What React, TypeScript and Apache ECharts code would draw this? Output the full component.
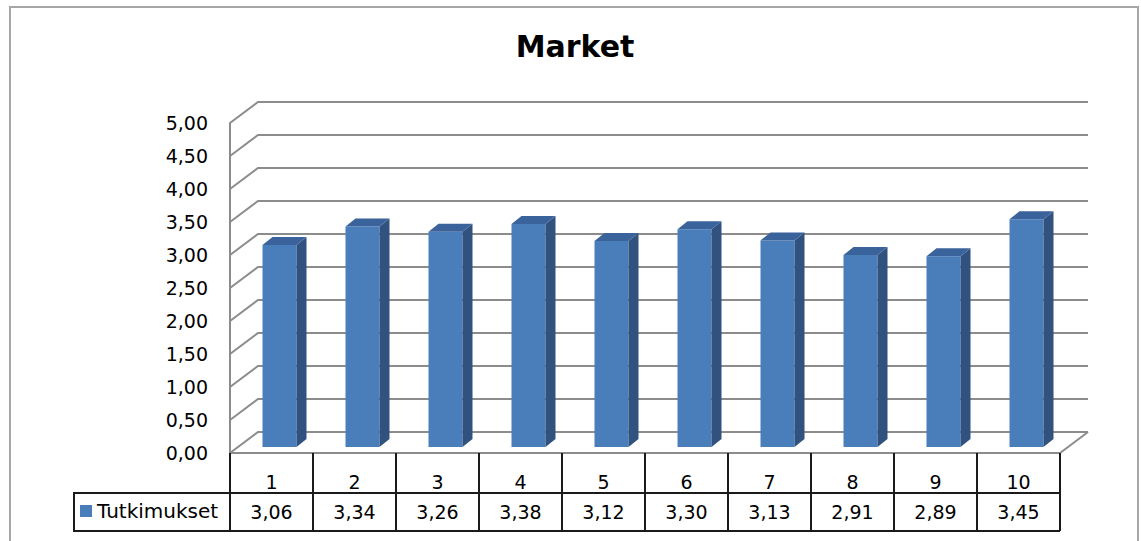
import React, { useEffect, useRef } from "react";
import * as echarts from "echarts";

const title = "Market";
const seriesName = "Tutkimukset";
const categories = ["1", "2", "3", "4", "5", "6", "7", "8", "9", "10"];
const values = [3.06, 3.34, 3.26, 3.38, 3.12, 3.3, 3.13, 2.91, 2.89, 3.45];
const gridValues = [0, 0.5, 1, 1.5, 2, 2.5, 3, 3.5, 4, 4.5, 5];

const FONT = "DejaVu Sans";
const DEPTH_X = 28;
const DEPTH_Y = 21;
const BAR_OFF_X = 8;
const BAR_OFF_Y = 6;
const BAR_W = 34;
const BAR_DX = 10;
const BAR_DY = 8;
const ROW1_H = 40;
const ROW2_H = 38;

const fmt = (v: number) => v.toFixed(2).replace(".", ",");

export default function App() {
  const ref = useRef<HTMLDivElement>(null);
  useEffect(() => {
    if (!ref.current) return;
    const chart = echarts.init(ref.current, null, { renderer: "svg" });
    const option: any = {
      animation: false,
      backgroundColor: "#ffffff",
      grid: { left: 230, top: 123, width: 830, height: 330 },
      legend: {
        data: [seriesName],
        left: 80,
        top: 501,
        padding: 0,
        icon: "rect",
        itemWidth: 12,
        itemHeight: 12,
        selectedMode: false,
        textStyle: { fontSize: 20, fontFamily: FONT, color: "#000" },
      },
      xAxis: {
        type: "category",
        data: categories,
        axisLine: { show: false },
        axisTick: { show: false },
        axisLabel: { show: false },
        splitLine: { show: false },
      },
      yAxis: {
        type: "value",
        min: 0,
        max: 5,
        interval: 0.5,
        axisLine: { show: true, lineStyle: { color: "#8c8c8c", width: 2 } },
        axisTick: { show: false },
        splitLine: { show: false },
        axisLabel: {
          formatter: (v: number) => fmt(v),
          fontSize: 19,
          fontFamily: FONT,
          color: "#000",
          margin: 22,
        },
      },
      graphic: [
        {
          type: "rect",
          shape: { x: 10, y: 7, width: 1128, height: 560 },
          style: { fill: "none", stroke: "#a6a6a6", lineWidth: 2 },
          silent: true,
          z: -10,
        },
        {
          type: "text",
          x: 575,
          y: 46,
          style: {
            text: title,
            align: "center",
            verticalAlign: "middle",
            fontSize: 30,
            fontWeight: "bold",
            fontFamily: FONT,
            fill: "#000",
          },
        },
        {
          type: "rect",
          shape: { x: 74, y: 493, width: 156, height: 38 },
          style: { fill: "none", stroke: "#1a1a1a", lineWidth: 2 },
          silent: true,
        },
      ],
      series: [
        {
          type: "custom",
          name: "grid",
          silent: true,
          z: 1,
          encode: { x: 0, y: 1 },
          data: gridValues.map((v) => [0, v]),
          renderItem: (params: any, api: any) => {
            const v = api.value(1);
            const y = api.coord([0, v])[1];
            const cs = params.coordSys;
            const x0 = cs.x;
            const x1 = cs.x + cs.width;
            const stroke = { fill: "none", stroke: "#8c8c8c", lineWidth: 2 };
            const children: any[] = [
              {
                type: "polyline",
                shape: {
                  points: [
                    [x0, y],
                    [x0 + DEPTH_X, y - DEPTH_Y],
                    [x1 + DEPTH_X, y - DEPTH_Y],
                  ],
                },
                style: stroke,
              },
            ];
            if (v === 0) {
              children.push({
                type: "polyline",
                shape: {
                  points: [
                    [x0, y],
                    [x1, y],
                    [x1 + DEPTH_X, y - DEPTH_Y],
                  ],
                },
                style: stroke,
              });
            }
            return { type: "group", children };
          },
        },
        {
          type: "custom",
          name: seriesName,
          z: 5,
          itemStyle: { color: "#4a7ebb" },
          encode: { x: 0, y: 1 },
          data: values.map((v, i) => [i, v]),
          renderItem: (params: any, api: any) => {
            const i = api.value(0);
            const v = api.value(1);
            const top = api.coord([i, v]);
            const bot = api.coord([i, 0]);
            const cx = top[0] + BAR_OFF_X;
            const yT = top[1] - BAR_OFF_Y;
            const yB = bot[1] - BAR_OFF_Y;
            const xl = cx - BAR_W / 2;
            const xr = cx + BAR_W / 2;
            return {
              type: "group",
              children: [
                {
                  type: "rect",
                  shape: { x: xl, y: yT, width: BAR_W, height: yB - yT },
                  style: { fill: "#4a7ebb" },
                },
                {
                  type: "polygon",
                  shape: {
                    points: [
                      [xr, yT],
                      [xr + BAR_DX, yT - BAR_DY],
                      [xr + BAR_DX, yB - BAR_DY],
                      [xr, yB],
                    ],
                  },
                  style: { fill: "#31527e" },
                },
                {
                  type: "polygon",
                  shape: {
                    points: [
                      [xl, yT],
                      [xl + BAR_DX, yT - BAR_DY],
                      [xr + BAR_DX, yT - BAR_DY],
                      [xr, yT],
                    ],
                  },
                  style: { fill: "#3b639b" },
                },
              ],
            };
          },
        },
        {
          type: "custom",
          name: "table",
          silent: true,
          z: 6,
          encode: { x: 0, y: 1 },
          data: values.map((v, i) => [i, v]),
          renderItem: (params: any, api: any) => {
            const i = api.value(0);
            const v = api.value(1);
            const base = api.coord([i, 0]);
            const bw = api.size([1, 0])[0];
            const cx = base[0];
            const y0 = base[1];
            const y1 = y0 + ROW1_H;
            const y2 = y1 + ROW2_H;
            const x0 = cx - bw / 2;
            const x1 = cx + bw / 2;
            const ls = { stroke: "#1a1a1a", lineWidth: 2 };
            const children: any[] = [
              { type: "line", shape: { x1: x0, y1: y0, x2: x0, y2: y2 }, style: ls },
              { type: "line", shape: { x1: x0, y1: y1, x2: x1, y2: y1 }, style: ls },
              { type: "line", shape: { x1: x0, y1: y2, x2: x1, y2: y2 }, style: ls },
              {
                type: "text",
                x: cx,
                y: y0 + 29,
                style: {
                  text: categories[params.dataIndex],
                  align: "center",
                  verticalAlign: "middle",
                  fontSize: 19,
                  fontFamily: FONT,
                  fill: "#000",
                },
              },
              {
                type: "text",
                x: cx,
                y: y1 + 19,
                style: {
                  text: fmt(v),
                  align: "center",
                  verticalAlign: "middle",
                  fontSize: 19,
                  fontFamily: FONT,
                  fill: "#000",
                },
              },
            ];
            if (params.dataIndex === categories.length - 1) {
              children.push({ type: "line", shape: { x1: x1, y1: y0, x2: x1, y2: y2 }, style: ls });
            }
            return { type: "group", children };
          },
        },
      ],
    };
    chart.setOption(option);
    return () => chart.dispose();
  }, []);
  return (
    <div
      ref={ref}
      style={{ position: "absolute", left: 0, top: 0, width: 1141, height: 541 }}
    />
  );
}
